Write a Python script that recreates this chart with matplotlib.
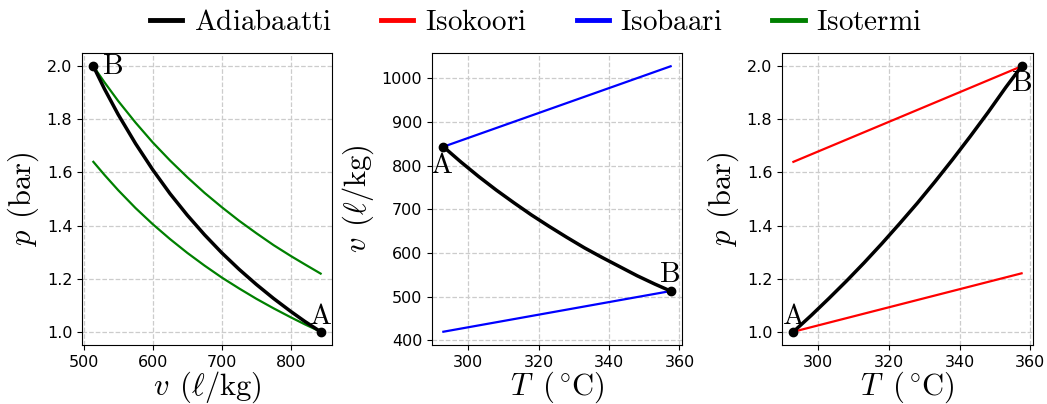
import matplotlib
matplotlib.use('Agg')
import matplotlib.pyplot as plt
from matplotlib.lines import Line2D

plt.rcParams['mathtext.fontset'] = 'cm'

# p-v diagram
v_adiabat = [514, 530, 550, 575, 600, 625, 650, 675, 700, 725, 750, 775, 800, 820, 843]
p_adiabat = [2.0, 1.915, 1.818, 1.709, 1.610, 1.520, 1.439, 1.365, 1.297, 1.235, 1.178, 1.125, 1.076, 1.039, 1.0]
p_isotherm_hot = [2.0, 1.940, 1.869, 1.788, 1.713, 1.645, 1.582, 1.523, 1.469, 1.418, 1.371, 1.326, 1.285, 1.254, 1.219]
p_isotherm_cold = [1.640, 1.591, 1.533, 1.466, 1.405, 1.349, 1.297, 1.249, 1.204, 1.163, 1.124, 1.088, 1.054, 1.028, 1.0]

# v-T and p-T diagrams
T_adiabat = [293, 298, 303, 308, 313, 318, 323, 328, 333, 338, 343, 348, 353, 357.5]
v_adiabat_T = [843, 808, 775, 744, 715, 687, 661, 636, 612, 590, 569, 548, 529, 513]
p_adiabat_T = [1.0, 1.061, 1.125, 1.191, 1.260, 1.332, 1.407, 1.484, 1.565, 1.649, 1.736, 1.826, 1.920, 2.0]

T_line = [293, 357.5]
v_isobar_low = [843, 1027]
v_isobar_high = [420, 513]
p_isochor_low = [1.0, 1.22]
p_isochor_high = [1.64, 2.0]

point_A = {'v': 843, 'p': 1.0, 'T': 293}
point_B = {'v': 514, 'p': 2.0, 'T': 357.5}

fig = plt.figure(figsize=(10.47, 4.04), dpi=100)
ax1 = fig.add_axes([82 / 1047, 1 - 345 / 404, 250 / 1047, 292 / 404])
ax2 = fig.add_axes([432 / 1047, 1 - 345 / 404, 250 / 1047, 292 / 404])
ax3 = fig.add_axes([782 / 1047, 1 - 345 / 404, 251 / 1047, 292 / 404])

lab = 22
pt = 21
tick = 11.5
t_label = r'$T\;\;({}^\circ\!\mathrm{C})$'

# p-v
ax1.plot(v_adiabat, p_isotherm_hot, color='green', lw=1.6)
ax1.plot(v_adiabat, p_isotherm_cold, color='green', lw=1.6)
ax1.plot(v_adiabat, p_adiabat, color='black', lw=2.5)
ax1.plot([point_A['v'], point_B['v']], [point_A['p'], point_B['p']], 'o', color='black', ms=6)
ax1.annotate(r'$\mathrm{B}$', (point_B['v'], point_B['p']), xytext=(6, 0), textcoords='offset points',
             ha='left', va='center', fontsize=pt)
ax1.annotate(r'$\mathrm{A}$', (point_A['v'], point_A['p']), xytext=(0, 1), textcoords='offset points',
             ha='center', va='bottom', fontsize=pt)
ax1.set_xlabel(r'$v\;\,(\ell/\mathrm{kg})$', fontsize=lab)
ax1.set_ylabel(r'$p\;\,(\mathrm{bar})$', fontsize=lab)

# v-T
ax2.plot(T_line, v_isobar_low, color='blue', lw=1.6)
ax2.plot(T_line, v_isobar_high, color='blue', lw=1.6)
ax2.plot(T_adiabat, v_adiabat_T, color='black', lw=2.5)
ax2.plot([point_A['T'], point_B['T']], [point_A['v'], point_B['v']], 'o', color='black', ms=6)
ax2.annotate(r'$\mathrm{A}$', (point_A['T'], point_A['v']), xytext=(-1, -3), textcoords='offset points',
             ha='center', va='top', fontsize=pt)
ax2.annotate(r'$\mathrm{B}$', (point_B['T'], point_B['v']), xytext=(-1, 2), textcoords='offset points',
             ha='center', va='bottom', fontsize=pt)
ax2.set_xlabel(t_label, fontsize=lab)
ax2.set_ylabel(r'$v\;\,(\ell/\mathrm{kg})$', fontsize=lab)

# p-T
ax3.plot(T_line, p_isochor_low, color='red', lw=1.6)
ax3.plot(T_line, p_isochor_high, color='red', lw=1.6)
ax3.plot(T_adiabat, p_adiabat_T, color='black', lw=2.5)
ax3.plot([point_A['T'], point_B['T']], [point_A['p'], point_B['p']], 'o', color='black', ms=6)
ax3.annotate(r'$\mathrm{A}$', (point_A['T'], point_A['p']), xytext=(0, 1), textcoords='offset points',
             ha='center', va='bottom', fontsize=pt)
ax3.annotate(r'$\mathrm{B}$', (point_B['T'], point_B['p']), xytext=(0, -2), textcoords='offset points',
             ha='center', va='top', fontsize=pt)
ax3.set_xlabel(t_label, fontsize=lab)
ax3.set_ylabel(r'$p\;\,(\mathrm{bar})$', fontsize=lab)

for ax in (ax1, ax2, ax3):
    ax.grid(True, linestyle='--', color='#cccccc', lw=0.9)
    ax.tick_params(labelsize=tick)
    ax.xaxis.labelpad = 0
    ax.yaxis.labelpad = 4

handles = [Line2D([], [], color=c, lw=3.5) for c in ('black', 'red', 'blue', 'green')]
names = [r'$\mathrm{Adiabaatti}$', r'$\mathrm{Isokoori}$', r'$\mathrm{Isobaari}$', r'$\mathrm{Isotermi}$']
fig.legend(handles, names, loc='upper center', bbox_to_anchor=(0.512, 1.045), ncol=4, frameon=False,
           fontsize=21, handlelength=1.1, handletextpad=0.4, columnspacing=1.7)

fig.savefig('out.png', dpi=100)
